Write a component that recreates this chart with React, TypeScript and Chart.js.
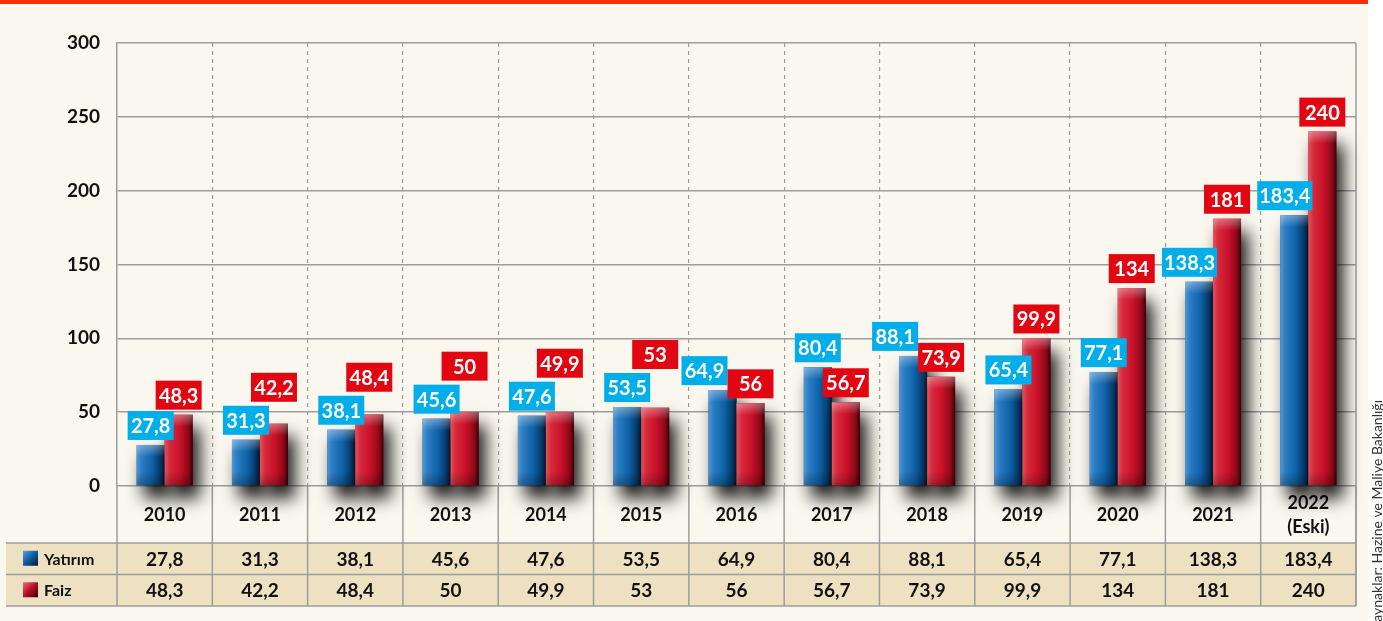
import React, { useEffect, useRef } from "react";
import { Chart, registerables } from "chart.js";

Chart.register(...registerables);

// ---------- DATA ----------
const categories: (string | string[])[] = [
  "2010", "2011", "2012", "2013", "2014", "2015", "2016",
  "2017", "2018", "2019", "2020", "2021", ["2022", "(Eski)"],
];
const yatirim = [27.8, 31.3, 38.1, 45.6, 47.6, 53.5, 64.9, 80.4, 88.1, 65.4, 77.1, 138.3, 183.4];
const faiz = [48.3, 42.2, 48.4, 50, 49.9, 53, 56, 56.7, 73.9, 99.9, 134, 181, 240];
const seriesNames = ["Yatırım", "Faiz"];
const yMin = 0;
const yMax = 300;
const yStep = 50;
const sourceText = "Kaynaklar: Hazine ve Maliye Bakanlığı";

// ---------- STYLE ----------
const W = 1383;
const H = 621;
const FONT = "Lato, 'Open Sans', sans-serif";
const CREAM = "#faf7ee";
const TAN = "#ede1c2";
const TOP_RED = "#ff2d0a";
const GRID = "#9d9d9d";
const BLUE_LABEL = "#00aeea";
const RED_LABEL = "#e20613";
const TEXT = "#111111";

const fmt = (v: number) => String(v).replace(".", ",");

function barGradient(ctx: CanvasRenderingContext2D, left: number, right: number, blue: boolean) {
  const g = ctx.createLinearGradient(left, 0, right, 0);
  if (blue) {
    g.addColorStop(0, "#5197d4");
    g.addColorStop(0.18, "#2a7cc3");
    g.addColorStop(0.55, "#0f62a8");
    g.addColorStop(0.85, "#073c6e");
    g.addColorStop(1, "#021a33");
  } else {
    g.addColorStop(0, "#e4525e");
    g.addColorStop(0.18, "#d62a3a");
    g.addColorStop(0.55, "#c8102a");
    g.addColorStop(0.85, "#8a0a18");
    g.addColorStop(1, "#3d0006");
  }
  return g;
}

const layoutPlugin = {
  id: "layoutDeco",
  beforeDraw(chart: any) {
    const ctx: CanvasRenderingContext2D = chart.ctx;
    const xs = chart.scales.x;
    const area = chart.chartArea;
    ctx.save();
    ctx.fillStyle = "#ffffff";
    ctx.fillRect(0, 0, W, H);
    ctx.fillStyle = CREAM;
    ctx.fillRect(0, 0, 1368, H);
    ctx.fillStyle = TOP_RED;
    ctx.fillRect(0, 0, 1368, 4);
    const tableTop = area.bottom + 57;
    ctx.fillStyle = TAN;
    ctx.fillRect(6, tableTop, xs.right - 6, 63);
    ctx.restore();
  },
  beforeDatasetsDraw(chart: any) {
    const ctx: CanvasRenderingContext2D = chart.ctx;
    const xs = chart.scales.x;
    const area = chart.chartArea;
    const tableTop = area.bottom + 57;
    const rowH = 31.5;
    const tableBottom = tableTop + 2 * rowH;
    const half = (xs.getPixelForValue(1) - xs.getPixelForValue(0)) / 2;
    ctx.save();
    ctx.strokeStyle = GRID;
    ctx.lineWidth = 1.5;
    for (let i = 0; i <= categories.length; i++) {
      const px = i < categories.length ? xs.getPixelForValue(i) - half : xs.getPixelForValue(i - 1) + half;
      ctx.beginPath();
      ctx.moveTo(px, area.bottom);
      ctx.lineTo(px, tableBottom);
      ctx.stroke();
    }
    ctx.beginPath();
    ctx.moveTo(xs.right, area.top);
    ctx.lineTo(xs.right, tableBottom);
    ctx.stroke();
    for (const y of [tableTop, tableTop + rowH, tableBottom]) {
      ctx.beginPath();
      ctx.moveTo(6, y);
      ctx.lineTo(xs.right, y);
      ctx.stroke();
    }
    ctx.restore();
  },
  afterDatasetsDraw(chart: any) {
    const ctx: CanvasRenderingContext2D = chart.ctx;
    [0, 1].forEach((di) => {
      const meta = chart.getDatasetMeta(di);
      meta.data.forEach((el: any) => {
        const p = el.getProps(["x", "y", "base", "width"], true);
        const left = p.x - p.width / 2;
        const right = p.x + p.width / 2;
        const top = p.y;
        const h = p.base - p.y;
        ctx.save();
        ctx.shadowColor = "rgba(0,0,0,0.9)";
        ctx.shadowBlur = 17;
        ctx.shadowOffsetX = 7;
        ctx.shadowOffsetY = 13;
        ctx.fillStyle = barGradient(ctx, left, right, di === 0);
        ctx.fillRect(left, top, p.width, h);
        ctx.restore();
        ctx.save();
        const hl = ctx.createLinearGradient(0, top, 0, top + 12);
        hl.addColorStop(0, "rgba(255,255,255,0.35)");
        hl.addColorStop(1, "rgba(255,255,255,0)");
        ctx.fillStyle = hl;
        ctx.fillRect(left, top, p.width, Math.min(12, h));
        const sh = ctx.createLinearGradient(0, p.base - 14, 0, p.base);
        sh.addColorStop(0, "rgba(0,0,0,0)");
        sh.addColorStop(1, "rgba(0,0,0,0.25)");
        ctx.fillStyle = sh;
        ctx.fillRect(left, Math.max(top, p.base - 14), p.width, Math.min(14, h));
        ctx.restore();
      });
    });

    const mB = chart.getDatasetMeta(0);
    const mR = chart.getDatasetMeta(1);
    ctx.save();
    ctx.font = `bold 20px ${FONT}`;
    ctx.textAlign = "center";
    ctx.textBaseline = "middle";
    const bh = 29;
    for (let i = 0; i < categories.length; i++) {
      const b = mB.data[i].getProps(["x", "y", "width"], true);
      const r = mR.data[i].getProps(["x", "y", "width"], true);
      const tb = fmt(yatirim[i]);
      const tr = fmt(faiz[i]);
      const wb = Math.max(46, ctx.measureText(tb).width + 4);
      const wr = Math.max(46, ctx.measureText(tr).width + 4);
      let bcx = b.x;
      let bBottom = b.y - 5;
      const rcx = r.x;
      let rBottom = r.y - 5;
      if (wb > 46) bcx = b.x + b.width / 2 + 4 - wb / 2;
      const overlapX = bcx + wb / 2 > rcx - wr / 2;
      const overlapY = bBottom > rBottom - bh && rBottom > bBottom - bh;
      if (overlapX && overlapY) {
        if (faiz[i] >= yatirim[i] - 2) {
          rBottom = bBottom - bh - 4;
        } else {
          bcx = rcx - wr / 2 - wb / 2;
        }
      }
      ctx.fillStyle = BLUE_LABEL;
      ctx.fillRect(bcx - wb / 2, bBottom - bh, wb, bh);
      ctx.fillStyle = "#ffffff";
      ctx.fillText(tb, bcx, bBottom - bh / 2 + 1);
      ctx.fillStyle = RED_LABEL;
      ctx.fillRect(rcx - wr / 2, rBottom - bh, wr, bh);
      ctx.fillStyle = "#ffffff";
      ctx.fillText(tr, rcx, rBottom - bh / 2 + 1);
    }
    ctx.restore();
  },
  afterDraw(chart: any) {
    const ctx: CanvasRenderingContext2D = chart.ctx;
    const xs = chart.scales.x;
    const area = chart.chartArea;
    const tableTop = area.bottom + 57;
    const rowH = 31.5;
    ctx.save();
    [0, 1].forEach((ri) => {
      const cy = tableTop + rowH * ri + rowH / 2;
      const sx = 23, sy = cy - 8, s = 15;
      const g = ctx.createLinearGradient(sx, sy, sx + s, sy + s);
      if (ri === 0) {
        g.addColorStop(0, "#5aa2dc");
        g.addColorStop(0.5, "#0f5a9c");
        g.addColorStop(1, "#021a33");
      } else {
        g.addColorStop(0, "#ec6a74");
        g.addColorStop(0.5, "#b50c24");
        g.addColorStop(1, "#3d0006");
      }
      ctx.fillStyle = g;
      ctx.fillRect(sx, sy, s, s);
      ctx.fillStyle = TEXT;
      ctx.font = `bold 16px ${FONT}`;
      ctx.textAlign = "left";
      ctx.textBaseline = "middle";
      ctx.fillText(seriesNames[ri], 44, cy + 1);
    });
    ctx.font = `bold 19px ${FONT}`;
    ctx.textAlign = "center";
    ctx.textBaseline = "middle";
    ctx.fillStyle = TEXT;
    [yatirim, faiz].forEach((arr, ri) => {
      const cy = tableTop + rowH * ri + rowH / 2 + 1;
      arr.forEach((v, i) => {
        ctx.fillText(fmt(v), xs.getPixelForValue(i), cy);
      });
    });
    ctx.translate(1382, 400);
    ctx.rotate(-Math.PI / 2);
    ctx.font = `14px ${FONT}`;
    ctx.fillStyle = "#333333";
    ctx.textAlign = "right";
    ctx.textBaseline = "alphabetic";
    ctx.fillText(sourceText, 0, 0);
    ctx.restore();
  },
};

export default function App() {
  const ref = useRef<HTMLCanvasElement>(null);
  useEffect(() => {
    document.body.style.margin = "0";
    const canvas = ref.current;
    if (!canvas) return;
    const chart = new Chart(canvas, {
      type: "bar",
      data: {
        labels: categories as any,
        datasets: [
          {
            label: seriesNames[0],
            data: yatirim,
            backgroundColor: "#0f62a8",
            borderWidth: 0,
            barPercentage: 1,
            categoryPercentage: 0.5876,
          },
          {
            label: seriesNames[1],
            data: faiz,
            backgroundColor: "#c8102a",
            borderWidth: 0,
            barPercentage: 1,
            categoryPercentage: 0.5876,
          },
        ],
      },
      options: {
        responsive: false,
        devicePixelRatio: 1,
        animation: false,
        layout: { padding: { top: 43, right: 27, left: 0, bottom: 0 } },
        plugins: {
          legend: { display: false },
          tooltip: { enabled: false },
        },
        scales: {
          x: {
            offset: true,
            afterFit: (s: any) => {
              s.height = 135;
            },
            grid: {
              offset: true,
              drawTicks: false,
              lineWidth: 1.2,
              color: (c: any) =>
                c.type !== "tick" || c.index === 0 ? "rgba(0,0,0,0)" : "#a0a0a0",
            },
            border: { display: false, dash: [4, 4] },
            ticks: {
              autoSkip: false,
              maxRotation: 0,
              minRotation: 0,
              padding: 17,
              crossAlign: "center",
              color: TEXT,
              font: { family: FONT, size: 18, weight: "bold", lineHeight: 1.35 },
            },
          },
          y: {
            min: yMin,
            max: yMax,
            afterFit: (s: any) => {
              s.width = 117;
            },
            grid: { color: GRID, lineWidth: 1.5, drawTicks: false },
            border: { display: true, color: GRID, width: 1.5 },
            ticks: {
              stepSize: yStep,
              padding: 17,
              color: TEXT,
              font: { family: FONT, size: 19, weight: "bold" },
            },
          },
        },
      } as any,
      plugins: [layoutPlugin],
    });
    return () => chart.destroy();
  }, []);
  return (
    <div style={{ width: W, height: H, position: "relative" }}>
      <canvas ref={ref} width={W} height={H} style={{ display: "block", width: W, height: H }} />
    </div>
  );
}
